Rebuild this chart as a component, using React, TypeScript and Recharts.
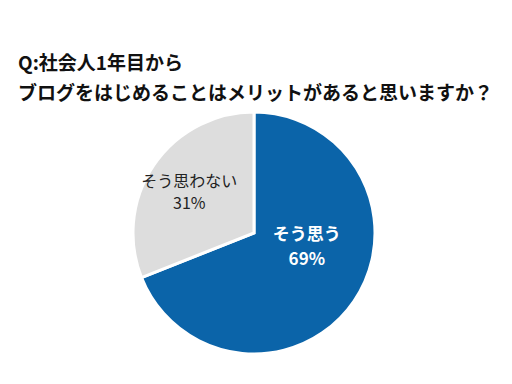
import React from "react";
import { PieChart, Pie, Cell } from "recharts";

const categories = ["そう思う", "そう思わない"];
const values = [69, 31];
const colors = ["#0B64A9", "#DDDDDD"];
const titleLines = ["Q:社会人1年目から", "ブログをはじめることはメリットがあると思いますか？"];

const data = categories.map((name, i) => ({ name, value: values[i] }));

const FONT = '"Noto Sans CJK JP", "Noto Sans", sans-serif';
const RAD = Math.PI / 180;

const labelCfg = [
  { rf: 0.45, ang: -14, color: "#ffffff", weight: 700, size: 17, gap: 25 },
  { rf: 0.63, ang: 148, color: "#222222", weight: 400, size: 16, gap: 22 },
];

const renderLabel = (props: any) => {
  const { cx, cy, outerRadius, index, name, value } = props;
  const c = labelCfg[index];
  const r = outerRadius * c.rf;
  const x = cx + r * Math.cos(c.ang * RAD);
  const y = cy - r * Math.sin(c.ang * RAD);
  return (
    <text
      x={x}
      y={y}
      textAnchor="middle"
      fill={c.color}
      fontFamily={FONT}
      fontWeight={c.weight}
      fontSize={c.size}
    >
      <tspan x={x} dy={-c.gap / 2 + c.size * 0.35}>{name}</tspan>
      <tspan x={x} dy={c.gap}>{`${value}%`}</tspan>
    </text>
  );
};

export default function App() {
  return (
    <div style={{ position: "absolute", left: 0, top: 0, width: 512, height: 384, background: "#fff" }}>
      <div
        style={{
          position: "absolute",
          left: 18,
          top: 47,
          fontFamily: FONT,
          fontWeight: 700,
          fontSize: 19,
          lineHeight: "30px",
          color: "#111",
          whiteSpace: "nowrap",
          zIndex: 2,
        }}
      >
        {titleLines.map((t, i) => (
          <div key={i}>{t}</div>
        ))}
      </div>
      <PieChart width={512} height={384}>
        <Pie
          data={data}
          dataKey="value"
          nameKey="name"
          cx={249}
          cy={228}
          outerRadius={121}
          startAngle={90}
          endAngle={-270}
          stroke="#ffffff"
          strokeWidth={3}
          isAnimationActive={false}
          labelLine={false}
          label={renderLabel}
        >
          {data.map((d, i) => (
            <Cell key={d.name} fill={colors[i]} />
          ))}
        </Pie>
      </PieChart>
    </div>
  );
}
